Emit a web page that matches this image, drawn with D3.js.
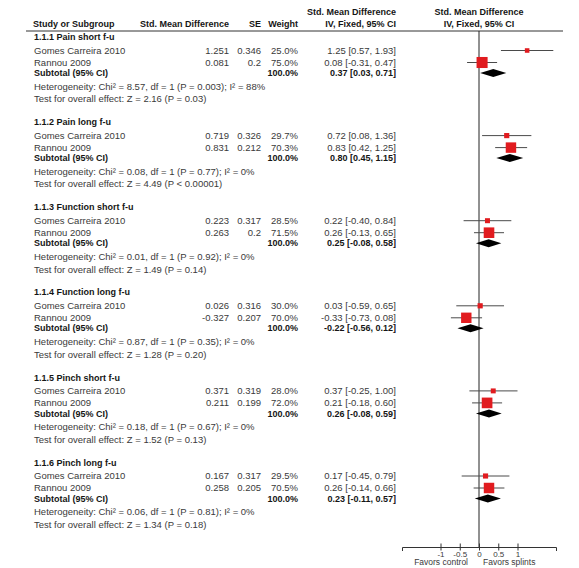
<!DOCTYPE html>
<html>
<head>
<meta charset="utf-8">
<title>Forest plot</title>
<script src="https://cdn.jsdelivr.net/npm/d3@7"></script>
<style>
body { margin: 0; background: #fff; }
text { font-family: "Liberation Sans", Arial, sans-serif; font-size: 9.5px; fill: #3a3a3a; }
text.b { font-weight: bold; font-size: 9px; fill: #151515; }
text.fav { font-size: 8.5px; }
</style>
</head>
<body>
<svg width="579" height="568"></svg>
<script>
var groups = ["1.1.1 Pain short f-u", "1.1.2 Pain long f-u", "1.1.3 Function short f-u",
	"1.1.4 Function long f-u", "1.1.5 Pinch short f-u", "1.1.6 Pinch long f-u"];
var studies = ["Gomes Carreira 2010", "Rannou 2009"];

var smd = [[1.251, 0.081], [0.719, 0.831], [0.223, 0.263], [0.026, -0.327], [0.371, 0.211], [0.167, 0.258]];
var se = [[0.346, 0.2], [0.326, 0.212], [0.317, 0.2], [0.316, 0.207], [0.319, 0.199], [0.317, 0.205]];
var weights = [[25.0, 75.0], [29.7, 70.3], [28.5, 71.5], [30.0, 70.0], [28.0, 72.0], [29.5, 70.5]];

var est = [[1.25, 0.08], [0.72, 0.83], [0.22, 0.26], [0.03, -0.33], [0.37, 0.21], [0.17, 0.26]];
var lower = [[0.57, -0.31], [0.08, 0.42], [-0.40, -0.13], [-0.59, -0.73], [-0.25, -0.18], [-0.45, -0.14]];
var upper = [[1.93, 0.47], [1.36, 1.25], [0.84, 0.65], [0.65, 0.08], [1.00, 0.60], [0.79, 0.66]];

var subEst = [0.37, 0.80, 0.25, -0.22, 0.26, 0.23];
var subLow = [0.03, 0.45, -0.08, -0.56, -0.08, -0.11];
var subHigh = [0.71, 1.15, 0.58, 0.12, 0.59, 0.57];

var chi2 = ["8.57", "0.08", "0.01", "0.87", "0.18", "0.06"];
var pHet = ["0.003", "0.77", "0.92", "0.35", "0.67", "0.81"];
var i2 = [88, 0, 0, 0, 0, 0];
var zVal = ["2.16", "4.49", "1.49", "1.28", "1.52", "1.34"];
var pZ = ["= 0.03", "< 0.00001", "= 0.14", "= 0.20", "= 0.13", "= 0.18"];

var axisTicks = [-1, -0.5, 0, 0.5, 1];

var svg = d3.select("svg");
var f2 = function(v) { return d3.format(".2f")(v).replace("\u2212", "-"); };
var f1 = d3.format(".1f");

var x = d3.scaleLinear().domain([-2, 2]).range([402, 556]);
var gy = d3.scaleLinear().domain([0, groups.length - 1]).range([37, 462.5]);
var size = d3.scaleLinear().domain([0, 100]).range([1.3, 14.3]);

var off = { s0: 13.5, s1: 25.5, sub: 36, het: 49.5, test: 62 };
var headY = 31, axisY = 547;

function txt(x0, y0, s, anchor, cls) {
	return svg.append("text")
		.attr("x", x0).attr("y", y0).attr("dy", "0.35em")
		.attr("text-anchor", anchor || "start")
		.attr("class", cls || null)
		.text(s);
}

function ci(e, l, u) {
	return f2(e) + " [" + f2(l) + ", " + f2(u) + "]";
}

// header
txt(396, 12, "Std. Mean Difference", "end", "b");
txt(479, 12, "Std. Mean Difference", "middle", "b");
txt(33, 24, "Study or Subgroup", "start", "b");
txt(229, 24, "Std. Mean Difference", "end", "b");
txt(261, 24, "SE", "end", "b");
txt(298, 24, "Weight", "end", "b");
txt(396, 24, "IV, Fixed, 95% CI", "end", "b");
txt(479, 24, "IV, Fixed, 95% CI", "middle", "b");

svg.append("line")
	.attr("x1", 26).attr("x2", 563)
	.attr("y1", headY).attr("y2", headY)
	.attr("stroke", "#333").attr("stroke-width", 1);

// zero line
svg.append("line")
	.attr("x1", x(0)).attr("x2", x(0))
	.attr("y1", headY).attr("y2", axisY)
	.attr("stroke", "#222").attr("stroke-width", 1);

groups.forEach(function(g, i) {
	var y0 = gy(i);
	txt(34, y0, g, "start", "b");

	studies.forEach(function(s, j) {
		var y = y0 + (j === 0 ? off.s0 : off.s1);
		txt(34, y, s);
		txt(229, y, String(smd[i][j]), "end");
		txt(261, y, String(se[i][j]), "end");
		txt(298, y, f1(weights[i][j]) + "%", "end");
		txt(396, y, ci(est[i][j], lower[i][j], upper[i][j]), "end");

		svg.append("line")
			.attr("x1", x(lower[i][j])).attr("x2", x(upper[i][j]))
			.attr("y1", y).attr("y2", y)
			.attr("stroke", "#4a4a4a").attr("stroke-width", 1);

		var w = size(weights[i][j]);
		svg.append("rect")
			.attr("x", x(est[i][j]) - w / 2).attr("y", y - w / 2)
			.attr("width", w).attr("height", w)
			.attr("fill", "#e11b1f");
	});

	var ys = y0 + off.sub;
	txt(34, ys, "Subtotal (95% CI)", "start", "b");
	txt(298, ys, "100.0%", "end", "b");
	txt(396, ys, ci(subEst[i], subLow[i], subHigh[i]), "end", "b");

	svg.append("path")
		.attr("d", "M" + x(subLow[i]) + "," + ys +
			"L" + x(subEst[i]) + "," + (ys - 4) +
			"L" + x(subHigh[i]) + "," + ys +
			"L" + x(subEst[i]) + "," + (ys + 4) + "Z")
		.attr("fill", "#000");

	txt(34, y0 + off.het, "Heterogeneity: Chi² = " + chi2[i] + ", df = 1 (P = " + pHet[i] + "); I² = " + i2[i] + "%");
	txt(34, y0 + off.test, "Test for overall effect: Z = " + zVal[i] + " (P " + pZ[i] + ")");
});

// axis
var axis = d3.axisBottom(x)
	.tickValues(axisTicks)
	.tickSize(4)
	.tickPadding(0)
	.tickFormat(function(d) { return String(d); });

var ag = svg.append("g")
	.attr("transform", "translate(0," + axisY + ")")
	.call(axis);

ag.select(".domain").attr("stroke", "#333");
ag.selectAll(".tick line").attr("y1", -3.5).attr("y2", 3.5).attr("stroke", "#333");
ag.selectAll(".tick text")
	.style("font-family", "'Liberation Sans', Arial, sans-serif")
	.style("font-size", "8px")
	.attr("fill", "#3a3a3a");

txt(468, 562.5, "Favors control", "end", "fav");
txt(483, 562.5, "Favors splints", "start", "fav");
</script>
</body>
</html>
